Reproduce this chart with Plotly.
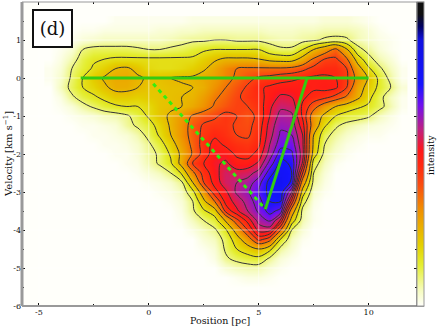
import numpy as np
import plotly.graph_objects as go

positions = [-4.5, -4, -3.5, -3, -2.5, -2, -1.5, -1, -0.5, 0, 0.5, 1, 1.5, 2, 2.5, 3, 3.5, 4, 4.5, 5, 5.5,
             6, 6.5, 7, 7.5, 8, 8.5, 9, 9.5, 10, 10.5, 11, 11.5]
velocities = [1.5, 1.25, 1, 0.75, 0.5, 0.25, 0, -0.25, -0.5, -0.75, -1, -1.25, -1.5, -1.75, -2, -2.25, -2.5,
              -2.75, -3, -3.25, -3.5, -3.75, -4, -4.25, -4.5, -4.75, -5, -5.25, -5.5]

# intensity in percent, one row per velocity
intensity = [
    [0, 0, 0, 0, 0, 0, 1, 1, 1, 1, 1, 1, 1, 2, 2, 2, 2, 2, 2, 2, 2, 2, 2, 2, 2, 3, 3, 3, 2, 1, 0, 0, 0],
    [0, 0, 0, 1, 1, 2, 2, 2, 2, 2, 3, 3, 4, 4, 5, 5, 5, 5, 5, 5, 4, 4, 4, 5, 5, 6, 6, 6, 5, 3, 1, 0, 0],
    [0, 0, 1, 3, 4, 5, 5, 5, 5, 5, 5, 6, 7, 8, 8, 9, 9, 8, 8, 8, 7, 6, 6, 7, 8, 10, 11, 10, 6, 4, 2, 1, 0],
    [0, 1, 3, 9, 11, 11, 11, 11, 10, 9, 9, 10, 11, 13, 15, 16, 16, 16, 16, 16, 12, 10, 10, 16, 24, 30, 37, 25, 11, 7, 3, 1, 0],
    [0, 2, 6, 12, 15, 16, 17, 17, 17, 17, 17, 17, 17, 17, 20, 23, 25, 25, 25, 24, 21, 20, 20, 27, 36, 42, 43, 36, 20, 11, 6, 3, 0],
    [1, 3, 9, 13, 17, 20, 24, 25, 22, 18, 17, 17, 18, 20, 23, 27, 32, 35, 36, 36, 36, 36, 37, 40, 44, 46, 46, 42, 28, 17, 10, 5, 1],
    [1, 4, 10, 16, 21, 25, 27, 27, 25, 23, 23, 24, 25, 25, 27, 29, 33, 36, 40, 43, 44, 46, 47, 48, 49, 49, 48, 43, 32, 23, 14, 7, 1],
    [0, 5, 11, 16, 19, 23, 26, 26, 24, 22, 22, 23, 23, 24, 26, 31, 35, 39, 43, 47, 49, 50, 50, 50, 49, 50, 49, 42, 28, 21, 14, 9, 3],
    [0, 2, 8, 12, 15, 18, 21, 21, 20, 21, 22, 23, 24, 25, 29, 34, 37, 41, 44, 46, 50, 54, 53, 49, 46, 44, 40, 34, 26, 18, 11, 5, 1],
    [0, 1, 3, 7, 10, 13, 15, 16, 16, 18, 22, 23, 24, 27, 31, 36, 39, 42, 42, 45, 52, 57, 56, 47, 38, 30, 24, 20, 17, 15, 11, 6, 1],
    [0, 0, 1, 2, 3, 5, 6, 8, 12, 17, 22, 25, 30, 36, 39, 41, 44, 42, 39, 44, 53, 60, 59, 47, 30, 22, 16, 13, 12, 10, 5, 2, 0],
    [0, 0, 0, 1, 1, 2, 3, 7, 10, 13, 19, 25, 31, 38, 43, 44, 44, 41, 40, 45, 55, 62, 61, 50, 30, 17, 10, 7, 5, 3, 2, 1, 0],
    [0, 0, 0, 0, 1, 1, 2, 3, 6, 11, 17, 24, 31, 38, 44, 47, 45, 42, 41, 46, 56, 64, 63, 53, 24, 11, 7, 4, 2, 1, 1, 0, 0],
    [0, 0, 0, 0, 0, 1, 1, 2, 4, 8, 13, 20, 29, 37, 45, 50, 47, 45, 44, 47, 58, 66, 66, 54, 22, 9, 5, 2, 1, 0, 0, 0, 0],
    [0, 0, 0, 0, 0, 0, 1, 1, 3, 7, 10, 17, 26, 36, 45, 51, 51, 47, 46, 50, 60, 71, 69, 55, 20, 7, 3, 1, 0, 0, 0, 0, 0],
    [0, 0, 0, 0, 0, 0, 0, 1, 2, 6, 10, 15, 27, 43, 48, 52, 54, 50, 50, 54, 65, 75, 72, 52, 12, 5, 1, 0, 0, 0, 0, 0, 0],
    [0, 0, 0, 0, 0, 0, 0, 0, 1, 3, 5, 9, 17, 33, 45, 51, 56, 55, 56, 60, 71, 77, 73, 42, 9, 3, 0, 0, 0, 0, 0, 0, 0],
    [0, 0, 0, 0, 0, 0, 0, 0, 0, 1, 2, 4, 8, 24, 42, 50, 56, 58, 60, 66, 75, 78, 72, 30, 7, 2, 0, 0, 0, 0, 0, 0, 0],
    [0, 0, 0, 0, 0, 0, 0, 0, 0, 0, 1, 2, 5, 14, 30, 46, 52, 59, 62, 68, 75, 76, 58, 20, 4, 1, 0, 0, 0, 0, 0, 0, 0],
    [0, 0, 0, 0, 0, 0, 0, 0, 0, 0, 0, 1, 3, 9, 22, 35, 50, 55, 60, 66, 73, 73, 46, 12, 2, 0, 0, 0, 0, 0, 0, 0, 0],
    [0, 0, 0, 0, 0, 0, 0, 0, 0, 0, 0, 0, 2, 8, 15, 20, 44, 52, 58, 64, 70, 66, 30, 7, 1, 0, 0, 0, 0, 0, 0, 0, 0],
    [0, 0, 0, 0, 0, 0, 0, 0, 0, 0, 0, 0, 1, 5, 9, 13, 25, 40, 50, 60, 64, 52, 20, 6, 1, 0, 0, 0, 0, 0, 0, 0, 0],
    [0, 0, 0, 0, 0, 0, 0, 0, 0, 0, 0, 0, 0, 2, 5, 8, 15, 28, 42, 55, 55, 35, 9, 3, 0, 0, 0, 0, 0, 0, 0, 0, 0],
    [0, 0, 0, 0, 0, 0, 0, 0, 0, 0, 0, 0, 0, 0, 3, 5, 11, 20, 30, 44, 38, 15, 5, 1, 0, 0, 0, 0, 0, 0, 0, 0, 0],
    [0, 0, 0, 0, 0, 0, 0, 0, 0, 0, 0, 0, 0, 0, 1, 3, 10, 16, 20, 24, 18, 7, 3, 0, 0, 0, 0, 0, 0, 0, 0, 0, 0],
    [0, 0, 0, 0, 0, 0, 0, 0, 0, 0, 0, 0, 0, 0, 0, 2, 8, 11, 13, 14, 8, 3, 1, 0, 0, 0, 0, 0, 0, 0, 0, 0, 0],
    [0, 0, 0, 0, 0, 0, 0, 0, 0, 0, 0, 0, 0, 0, 0, 0, 3, 5, 6, 6, 3, 1, 0, 0, 0, 0, 0, 0, 0, 0, 0, 0, 0],
    [0, 0, 0, 0, 0, 0, 0, 0, 0, 0, 0, 0, 0, 0, 0, 0, 0, 1, 2, 2, 1, 0, 0, 0, 0, 0, 0, 0, 0, 0, 0, 0, 0],
    [0, 0, 0, 0, 0, 0, 0, 0, 0, 0, 0, 0, 0, 0, 0, 0, 0, 0, 0, 0, 0, 0, 0, 0, 0, 0, 0, 0, 0, 0, 0, 0, 0],
]
contour_levels = [9, 16, 24, 35, 42, 48, 53, 58, 63, 68, 73]

x_range = [-5.77, 12.2]
y_range = [-6, 2]
x_ticks = [-5, 0, 5, 10]
x_labels = ["-5", "0", "5", "10"]
y_ticks = [-6, -5, -4, -3, -2, -1, 0, 1]
y_labels = ["-6", "-5", "-4", "-3", "-2", "-1", "0", "1"]

ridge_x = [-3.1, 10]
ridge_y = [0, 0]
steep_x = [7.2, 5.3]
steep_y = [0, -3.45]
dotted_x = [0.2, 5.3]
dotted_y = [-0.15, -3.45]

# colour ramp as seen on the bar at the right
ramp = [
    [0, "#fffffa"], [0.05, "#f6fcc0"], [0.135, "#e4ee30"], [0.2, "#e4d000"], [0.315, "#f09000"],
    [0.4, "#fa4c10"], [0.46, "#ff2a10"], [0.51, "#ff1818"], [0.58, "#c02080"], [0.66, "#7010f0"],
    [0.73, "#1515ff"], [0.875, "#1010e0"], [0.92, "#000060"], [0.96, "#101010"], [1, "#101010"],
]
z = np.array(intensity, dtype=float) / 100

font = "DejaVu Serif"
ink = "#111111"
grid = "rgba(255,255,255,0.5)"
fig = go.Figure()

# density image
fig.add_trace(go.Heatmap(
    x=positions, y=velocities, z=z, zmin=0, zmax=1, zsmooth="best", colorscale=ramp, hoverinfo="skip",
    colorbar=dict(x=1, xpad=0, y=0.5, len=1, ypad=0, thickness=7, ticks="", showticklabels=False,
                  outlinewidth=1, outlinecolor="#999999"),
))

# white grid over the image, under the lines
for v in y_ticks[1:]:
    fig.add_trace(go.Scatter(x=x_range, y=[v, v], mode="lines", hoverinfo="skip", line=dict(color=grid, width=1)))
for v in x_ticks:
    fig.add_trace(go.Scatter(x=[v, v], y=y_range, mode="lines", hoverinfo="skip", line=dict(color=grid, width=1)))

# contour lines
for level in contour_levels:
    fig.add_trace(go.Contour(
        x=positions, y=velocities, z=z, showscale=False, hoverinfo="skip",
        contours=dict(coloring="none", start=level / 100, end=level / 100, size=1),
        line=dict(color="#333333", width=1, smoothing=1),
    ))

fig.add_trace(go.Scatter(x=ridge_x, y=ridge_y, mode="lines", line=dict(color="#33cc11", width=3)))
fig.add_trace(go.Scatter(x=steep_x, y=steep_y, mode="lines", line=dict(color="#33cc11", width=3)))
fig.add_trace(go.Scatter(x=dotted_x, y=dotted_y, mode="lines", line=dict(color="#33ee11", width=3, dash="4px,4px")))

# heavier left and bottom frame, dark right edge
fig.add_shape(type="line", xref="paper", yref="paper", x0=0, x1=0, y0=0, y1=1, line=dict(color="#999999", width=3))
fig.add_shape(type="line", xref="paper", yref="paper", x0=0, x1=1.018, y0=0, y1=0, line=dict(color="#999999", width=2))
fig.add_shape(type="line", xref="paper", yref="paper", x0=0, x1=1.018, y0=1, y1=1, line=dict(color="#999999", width=1))
fig.add_shape(type="line", xref="paper", yref="paper", x0=1, x1=1, y0=0, y1=1, line=dict(color="#222222", width=1))

fig.add_annotation(text="(d)", xref="paper", yref="paper", x=0.0772, y=0.914, xanchor="center", yanchor="middle",
                   showarrow=False, width=35, height=33, bgcolor="white", bordercolor=ink, borderwidth=2,
                   font=dict(family=font, size=18, color=ink))
fig.add_annotation(text="intensity", xref="paper", yref="paper", x=1.0354, y=0.5, xanchor="center", yanchor="middle",
                   textangle=-90, showarrow=False, font=dict(family=font, size=9, color=ink))
fig.add_annotation(text="Position [pc]", xref="paper", yref="paper", x=0.5, y=0, yshift=-7, xanchor="center", yanchor="top",
                   showarrow=False, font=dict(family=font, size=9.5, color=ink))
fig.add_annotation(text="Velocity [km s<sup>−1</sup>]", xref="paper", yref="paper", x=0, xshift=-14, y=0.5, xanchor="center",
                   yanchor="middle", textangle=-90, showarrow=False, font=dict(family=font, size=10, color=ink))

fig.update_layout(
    width=437, height=327, margin=dict(l=22, r=20, t=2, b=21), showlegend=False,
    paper_bgcolor="white", plot_bgcolor="#fffffa", font=dict(family=font, size=8, color=ink),
)
fig.update_xaxes(
    range=x_range, tickvals=x_ticks, ticktext=x_labels, ticks="inside", ticklen=3, tickcolor=ink, showgrid=False,
    zeroline=False, showline=False, mirror="ticks", automargin=False,
    minor=dict(dtick=2.5, ticks="inside", ticklen=2, tickcolor=ink),
)
fig.update_yaxes(
    range=y_range, tickvals=y_ticks, ticktext=y_labels, ticks="inside", ticklen=3, tickcolor=ink, showgrid=False,
    zeroline=False, showline=False, mirror="ticks", automargin=False,
    minor=dict(dtick=0.5, ticks="inside", ticklen=2, tickcolor=ink),
)

# the page's default body margin would shift the 437x327 figure
fig.write_html("out.html", config=dict(displayModeBar=False), post_script="document.body.style.margin = '0';")
